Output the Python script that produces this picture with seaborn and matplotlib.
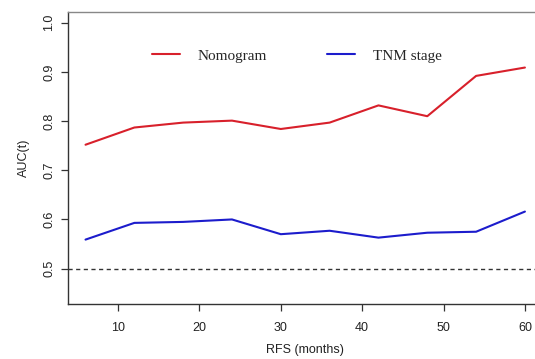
import matplotlib
matplotlib.use("Agg")
import matplotlib.pyplot as plt
import seaborn as sns
import pandas as pd
from matplotlib.lines import Line2D

months = [6, 12, 18, 24, 30, 36, 42, 48, 54, 60]
nomogram = [0.752, 0.787, 0.797, 0.801, 0.784, 0.797, 0.832, 0.810, 0.892, 0.909]
tnm_stage = [0.559, 0.593, 0.595, 0.600, 0.570, 0.577, 0.563, 0.573, 0.575, 0.616]
series_names = ["Nomogram", "TNM stage"]
x_ticks = [10, 20, 30, 40, 50, 60]
y_ticks = [0.5, 0.6, 0.7, 0.8, 0.9, 1.0]

df = pd.DataFrame({
    "month": months * 2,
    "auc": nomogram + tnm_stage,
    "model": [series_names[0]] * len(months) + [series_names[1]] * len(months),
})

sns.set_theme(style="ticks")
plt.rcParams['font.family'] = ['Liberation Sans', 'DejaVu Sans']

fig = plt.figure(figsize=(5.35, 3.59), dpi=100)
ax = fig.add_axes([0.127, 0.1532, 0.887, 0.8134])

palette = {"Nomogram": "#d8202b", "TNM stage": "#1c1ccc"}
sns.lineplot(data=df, x="month", y="auc", hue="model", palette=palette,
             linewidth=1.5, ax=ax, legend=False)

ax.axhline(0.5, color="#333333", linestyle=(0, (3, 2.5)), linewidth=1.0)

ax.set_xlim(3.84, 62.16)
ax.set_ylim(0.428, 1.022)
ax.set_xticks(x_ticks)
ax.set_yticks(y_ticks)
ax.set_xticklabels([str(t) for t in x_ticks], fontsize=9, color="#222222")
ax.set_yticklabels([f"{t:.1f}" for t in y_ticks], fontsize=9, color="#222222",
                   rotation=90, va="center")
ax.tick_params(axis="both", which="major", direction="out", length=5, width=0.9,
               color="#333333", bottom=True, left=True)
ax.tick_params(axis="x", pad=8)
ax.tick_params(axis="y", pad=4)
ax.set_xlabel("RFS (months)", fontsize=9, color="#222222", labelpad=7)
ax.set_ylabel("AUC(t)", fontsize=9, color="#222222", labelpad=10)

for side in ["left", "bottom"]:
    ax.spines[side].set_color("#333333")
    ax.spines[side].set_linewidth(1.0)
ax.spines["top"].set_visible(True)
ax.spines["top"].set_color("#888888")
ax.spines["top"].set_linewidth(1.0)
ax.spines["right"].set_visible(False)

handles = [Line2D([0], [0], color=palette[n], linewidth=1.5) for n in series_names]
ax.legend(handles, series_names, loc="upper left", bbox_to_anchor=(0.1475, 0.92),
          ncol=2, frameon=False, handlelength=1.83, handletextpad=1.2,
          columnspacing=3.9, prop={"family": "Liberation Serif", "size": 11})

fig.savefig("out.png", dpi=100)
